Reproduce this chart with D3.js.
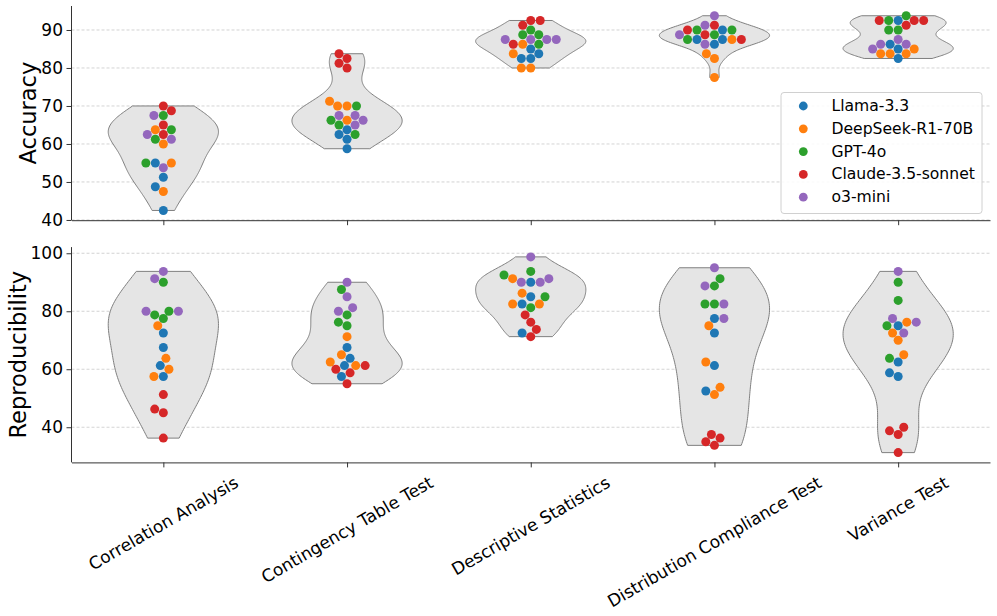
<!DOCTYPE html>
<html>
<head>
<meta charset="utf-8">
<script src="https://cdn.jsdelivr.net/npm/d3@7"></script>
<style>
  body { margin: 0; background: #fff; }
  svg { display: block; font-family: "DejaVu Sans", sans-serif; }
</style>
</head>
<body>
<svg id="chart" width="997" height="616"></svg>
<script>
const categories = ["Correlation Analysis", "Contingency Table Test", "Descriptive Statistics",
  "Distribution Compliance Test", "Variance Test"];
const models = ["Llama-3.3", "DeepSeek-R1-70B", "GPT-4o", "Claude-3.5-sonnet", "o3-mini"];
const colors = ["#1f77b4", "#ff7f0e", "#2ca02c", "#d62728", "#9467bd"];

// accuracy, one row of 4 runs per category
const accLlama = [[55, 51.25, 48.75, 42.5], [63.75, 62.5, 61.25, 58.75], [85, 83.75, 82.5, 82.5],
  [90, 87.5, 87.5, 86.25], [92.5, 86.25, 85, 82.5]];
const accDeepSeek = [[63.75, 60, 55, 47.5], [71.25, 70, 70, 66.25], [86.25, 83.75, 80, 80],
  [87.5, 83.75, 82.5, 77.5], [85, 83.75, 83.75, 83.75]];
const accGPT = [[67.5, 63.75, 61.25, 55], [70, 66.25, 65, 62.5], [90, 88.75, 88.75, 86.25],
  [90, 90, 88.75, 87.5], [93.75, 92.5, 90, 90]];
const accClaude = [[70, 68.75, 65, 62.5], [83.75, 82.5, 81.25, 80], [92.5, 92.5, 91.25, 86.25],
  [91.25, 90, 88.75, 87.5], [92.5, 92.5, 92.5, 91.25]];
const accO3 = [[67.5, 62.5, 61.25, 53.75], [67.5, 67.5, 66.25, 65], [87.5, 87.5, 87.5, 87.5],
  [93.75, 91.25, 88.75, 86.25], [87.5, 86.25, 86.25, 85]];

// reproducibility
const repLlama = [[72.5, 67.5, 61.25, 57.5], [67.5, 63.75, 61.25, 57.5], [90, 85, 82.5, 72.5],
  [77.5, 72.5, 61.25, 52.5], [75, 62.5, 58.75, 57.5]];
const repDeepSeek = [[75, 63.75, 60, 57.5], [71.25, 65, 62.5, 61.25], [91.25, 86.25, 82.5, 82.5],
  [75, 62.5, 53.75, 51.25], [76.25, 72.5, 70, 65]];
const repGPT = [[90, 80, 78.75, 77.5], [87.5, 78.75, 76.25, 75], [93.75, 92.5, 85, 81.25],
  [91.25, 88.75, 82.5, 82.5], [90, 83.75, 75, 63.75]];
const repClaude = [[51.25, 46.25, 45, 36.25], [61.25, 60, 58.75, 55], [78.75, 76.25, 73.75, 71.25],
  [37.5, 36.25, 35, 33.75], [40, 38.75, 37.5, 31.25]];
const repO3 = [[93.75, 91.25, 80, 80], [90, 85, 81.25, 80], [98.75, 91.25, 90, 90],
  [95, 88.75, 82.5, 77.5], [93.75, 77.5, 76.25, 72.5]];

const accTicks = [40, 50, 60, 70, 80, 90];
const repTicks = [40, 60, 80, 100];

const svg = d3.select("#chart");
const left = 71.5, right = 990;
const x = d3.scaleLinear().domain([-0.5, categories.length - 0.5]).range([left, right]);
const dotR = 4.5;

function longForm(perModel) {
  var rows = [];
  categories.forEach(function(c, ci) {
    perModel.forEach(function(arr, mi) {
      arr[ci].forEach(function(v) { rows.push({cat: ci, model: mi, value: v}); });
    });
  });
  return rows;
}

// gaussian kde, scott bandwidth, cut at data range
function violinShape(vals) {
  var n = vals.length, sd = d3.deviation(vals);
  var bw = sd * Math.pow(n, -0.2);
  var lo = d3.min(vals), hi = d3.max(vals);
  var grid = d3.range(100).map(function(i) { return lo + (hi - lo) * i / 99; });
  var dens = grid.map(function(g) {
    return d3.sum(vals, function(v) { return Math.exp(-0.5 * Math.pow((g - v) / bw, 2)); });
  });
  var mx = d3.max(dens);
  return grid.map(function(g, i) { return {v: g, w: dens[i] / mx * 0.3}; });
}

// seaborn-like beeswarm in pixel space
function swarm(pts, cx) {
  var order = pts.map(function(p, i) { return i; })
      .sort(function(a, b) { return (pts[a].value - pts[b].value) || (a - b); });
  var placed = [];
  order.forEach(function(idx) {
    var p = pts[idx], yi = -p.py;
    var neighbors = [];
    for (var k = placed.length - 1; k >= 0; k--) {
      if (yi - placed[k].y < 2 * dotR) neighbors.unshift(placed[k]); else break;
    }
    var cands = [cx], leftFirst = true;
    neighbors.forEach(function(q) {
      var dy = yi - q.y;
      var dx = Math.sqrt(Math.max(4 * dotR * dotR - dy * dy, 0)) * 1.05;
      if (leftFirst) cands.push(q.x - dx, q.x + dx); else cands.push(q.x + dx, q.x - dx);
      leftFirst = !leftFirst;
    });
    cands = cands.map(function(c, i) { return {c: c, i: i}; })
        .sort(function(a, b) { return (Math.abs(a.c - cx) - Math.abs(b.c - cx)) || (a.i - b.i); });
    var chosen = cands[0].c;
    for (var j = 0; j < cands.length; j++) {
      var ok = neighbors.every(function(q) {
        var ddx = q.x - cands[j].c, ddy = q.y - yi;
        return ddx * ddx + ddy * ddy >= 4 * dotR * dotR - 1e-9;
      });
      if (ok) { chosen = cands[j].c; break; }
    }
    p.px = chosen;
    placed.push({x: chosen, y: yi});
  });
}

function drawPanel(perModel, ticks, top, bottom, label, labelX, showLabels) {
  var rows = longForm(perModel);
  var ext = d3.extent(rows, function(d) { return d.value; });
  var pad = (ext[1] - ext[0]) * 0.05;
  var y = d3.scaleLinear().domain([ext[0] - pad, ext[1] + pad]).range([bottom, top]);
  var g = svg.append("g");

  g.append("g").selectAll("line").data(ticks).join("line")
      .attr("x1", left).attr("x2", right)
      .attr("y1", function(d) { return y(d); }).attr("y2", function(d) { return y(d); })
      .attr("stroke", "#c8c8c8").attr("stroke-width", 0.8).attr("stroke-dasharray", "3,2");

  var area = d3.area()
      .x0(function(d) { return x(d.ci - d.w); })
      .x1(function(d) { return x(d.ci + d.w); })
      .y(function(d) { return y(d.v); });

  categories.forEach(function(c, ci) {
    var vals = rows.filter(function(r) { return r.cat === ci; }).map(function(r) { return r.value; });
    var shape = violinShape(vals).map(function(s) { return {v: s.v, w: s.w, ci: ci}; });
    g.append("path").attr("d", area(shape))
        .attr("fill", "#e5e5e5").attr("stroke", "#7f7f7f").attr("stroke-width", 1);
  });

  categories.forEach(function(c, ci) {
    var pts = rows.filter(function(r) { return r.cat === ci; });
    pts.forEach(function(p) { p.py = y(p.value); });
    swarm(pts, x(ci));
  });

  g.append("g").selectAll("circle").data(rows).join("circle")
      .attr("cx", function(d) { return d.px; })
      .attr("cy", function(d) { return d.py; })
      .attr("r", dotR)
      .attr("fill", function(d) { return colors[d.model]; });

  var yAxis = g.append("g").attr("transform", "translate(" + left + ",0)")
      .call(d3.axisLeft(y).tickValues(ticks).tickSize(5).tickPadding(3.5).tickSizeOuter(0));
  yAxis.select(".domain").attr("d", "M0," + top + "V" + bottom);
  var xAxis = g.append("g").attr("transform", "translate(0," + bottom + ")")
      .call(d3.axisBottom(x).tickValues(d3.range(categories.length)).tickFormat("")
          .tickSize(5).tickSizeOuter(0));
  [yAxis, xAxis].forEach(function(a) {
    a.selectAll("path, line").attr("stroke", "#333").attr("stroke-width", 1);
    a.selectAll("text").attr("font-size", 17).attr("font-family", "DejaVu Sans").attr("fill", "#000");
  });

  g.append("text").attr("transform", "translate(" + labelX + "," + ((top + bottom) / 2) + ") rotate(-90)")
      .attr("text-anchor", "middle").attr("dominant-baseline", "central")
      .attr("font-size", 22.5).text(label);

  if (showLabels) {
    var fs = 17, h = fs * 1.17, ang = Math.PI / 6, tTop = bottom + 5 + 4.9;
    categories.forEach(function(c, ci) {
      var t = g.append("text").attr("font-size", fs).attr("text-anchor", "middle")
          .attr("dominant-baseline", "central").text(c);
      var w = t.node().getComputedTextLength();
      var H = w * Math.sin(ang) + h * Math.cos(ang);
      var cx = x(ci), cy = tTop + H / 2;
      t.attr("x", cx).attr("y", cy).attr("transform", "rotate(-30," + cx + "," + cy + ")");
    });
  }
  return g;
}

drawPanel([accLlama, accDeepSeek, accGPT, accClaude, accO3], accTicks, 6.0, 220.2, "Accuracy", 28, false);
drawPanel([repLlama, repDeepSeek, repGPT, repClaude, repO3], repTicks, 247.1, 462.4, "Reproducibility", 18, true);

// legend
const lg = svg.append("g");
lg.append("rect").attr("x", 781).attr("y", 92.5).attr("width", 201).attr("height", 121)
    .attr("rx", 3).attr("fill", "#fff").attr("fill-opacity", 0.85)
    .attr("stroke", "#d0d0d0").attr("stroke-width", 1);
const items = lg.selectAll("g.item").data(models).join("g")
    .attr("transform", function(d, i) { return "translate(0," + (106 + i * 22.8) + ")"; });
items.append("circle").attr("cx", 803.3).attr("cy", 0).attr("r", 4.4)
    .attr("fill", function(d, i) { return colors[i]; });
items.append("text").attr("x", 831.5).attr("y", 0).attr("dominant-baseline", "central")
    .attr("font-size", 15.6).text(function(d) { return d; });
</script>
</body>
</html>
